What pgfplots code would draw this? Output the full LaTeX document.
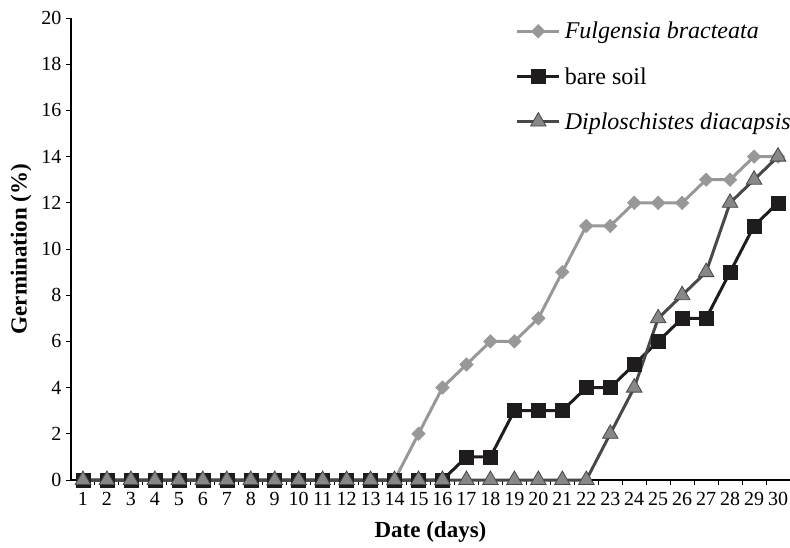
\documentclass[border=0pt]{standalone}
\usepackage{pgfplots}
\pgfplotsset{compat=1.18}
\usepackage{fontspec}
\setmainfont{Liberation Serif}
\definecolor{fulg}{RGB}{152,152,152}
\definecolor{bare}{RGB}{30,28,28}
\definecolor{diplo}{RGB}{72,72,72}
\definecolor{diplofill}{RGB}{135,135,135}
\begin{document}
\begin{tikzpicture}
\begin{axis}[
  scale only axis, width=719pt, height=462pt,
  xmin=0.5, xmax=30.5, ymin=0, ymax=20,
  axis x line*=bottom, axis y line*=left,
  axis line style={line width=1.5pt, black},
  xtick={1,...,30}, ytick={0,2,...,20},
  minor xtick={1.5,2.5,...,29.5},
  major x tick style={draw=none},
  tick style={line width=1pt, black},
  minor tick length=5pt, major tick length=5pt,
  tick align=outside,
  /pgf/number format/assume math mode=true,
  ticklabel style={font=\fontsize{20}{23}\selectfont},
  xticklabel style={yshift=-4pt},
  yticklabel style={xshift=-1pt},
  xlabel={\textbf{Date (days)}}, ylabel={\textbf{Germination (\%)}},
  label style={font=\fontsize{23}{27}\selectfont},
  xlabel style={at={(axis description cs:0.5,0)}, anchor=center, yshift=-52pt},
  ylabel style={at={(axis description cs:0,0.5)}, anchor=center, yshift=50pt},
  legend image code/.code={\draw[mark repeat=2,mark phase=2,#1] plot coordinates {(0pt,0pt)(21pt,0pt)(42pt,0pt)};},
  legend style={at={(rel axis cs:1,1)}, anchor=north east, draw=none, fill=none,
    font=\fontsize{24}{28}\selectfont, row sep=19pt, xshift=8pt, yshift=2pt,
    nodes={inner sep=4pt}},
  legend cell align=left,
  clip=false,
]
\addplot[color=fulg, line width=3pt, mark=square*, mark size=4.8pt, mark options={rotate=45, fill=fulg, draw=fulg, line width=0.5pt}] coordinates {
(1,0)(2,0)(3,0)(4,0)(5,0)(6,0)(7,0)(8,0)(9,0)(10,0)(11,0)(12,0)(13,0)(14,0)
(15,2)(16,4)(17,5)(18,6)(19,6)(20,7)(21,9)(22,11)(23,11)(24,12)(25,12)(26,12)(27,13)(28,13)(29,14)(30,14)};
\addlegendentry{\textit{Fulgensia bracteata}}
\addplot[color=bare, line width=3pt, mark=square*, mark size=7pt, mark options={fill=bare, draw=bare, line width=0.5pt}] coordinates {
(1,0)(2,0)(3,0)(4,0)(5,0)(6,0)(7,0)(8,0)(9,0)(10,0)(11,0)(12,0)(13,0)(14,0)(15,0)(16,0)
(17,1)(18,1)(19,3)(20,3)(21,3)(22,4)(23,4)(24,5)(25,6)(26,7)(27,7)(28,9)(29,11)(30,12)};
\addlegendentry{bare soil}
\addplot[color=diplo, line width=3pt, mark=triangle*, mark size=9pt, mark options={fill=diplofill, draw=diplo, line width=0.8pt}] coordinates {
(1,0)(2,0)(3,0)(4,0)(5,0)(6,0)(7,0)(8,0)(9,0)(10,0)(11,0)(12,0)(13,0)(14,0)(15,0)(16,0)(17,0)(18,0)(19,0)(20,0)(21,0)(22,0)
(23,2)(24,4)(25,7)(26,8)(27,9)(28,12)(29,13)(30,14)};
\addlegendentry{\textit{Diploschistes diacapsis}}
\path (rel axis cs:0,0) ++(-71pt,-67pt) coordinate (bl);
\path (rel axis cs:1,1) ++(0pt,18pt) coordinate (tr);
\end{axis}
\pgfresetboundingbox
\path[use as bounding box] (bl) rectangle (tr);
\end{tikzpicture}
\end{document}
